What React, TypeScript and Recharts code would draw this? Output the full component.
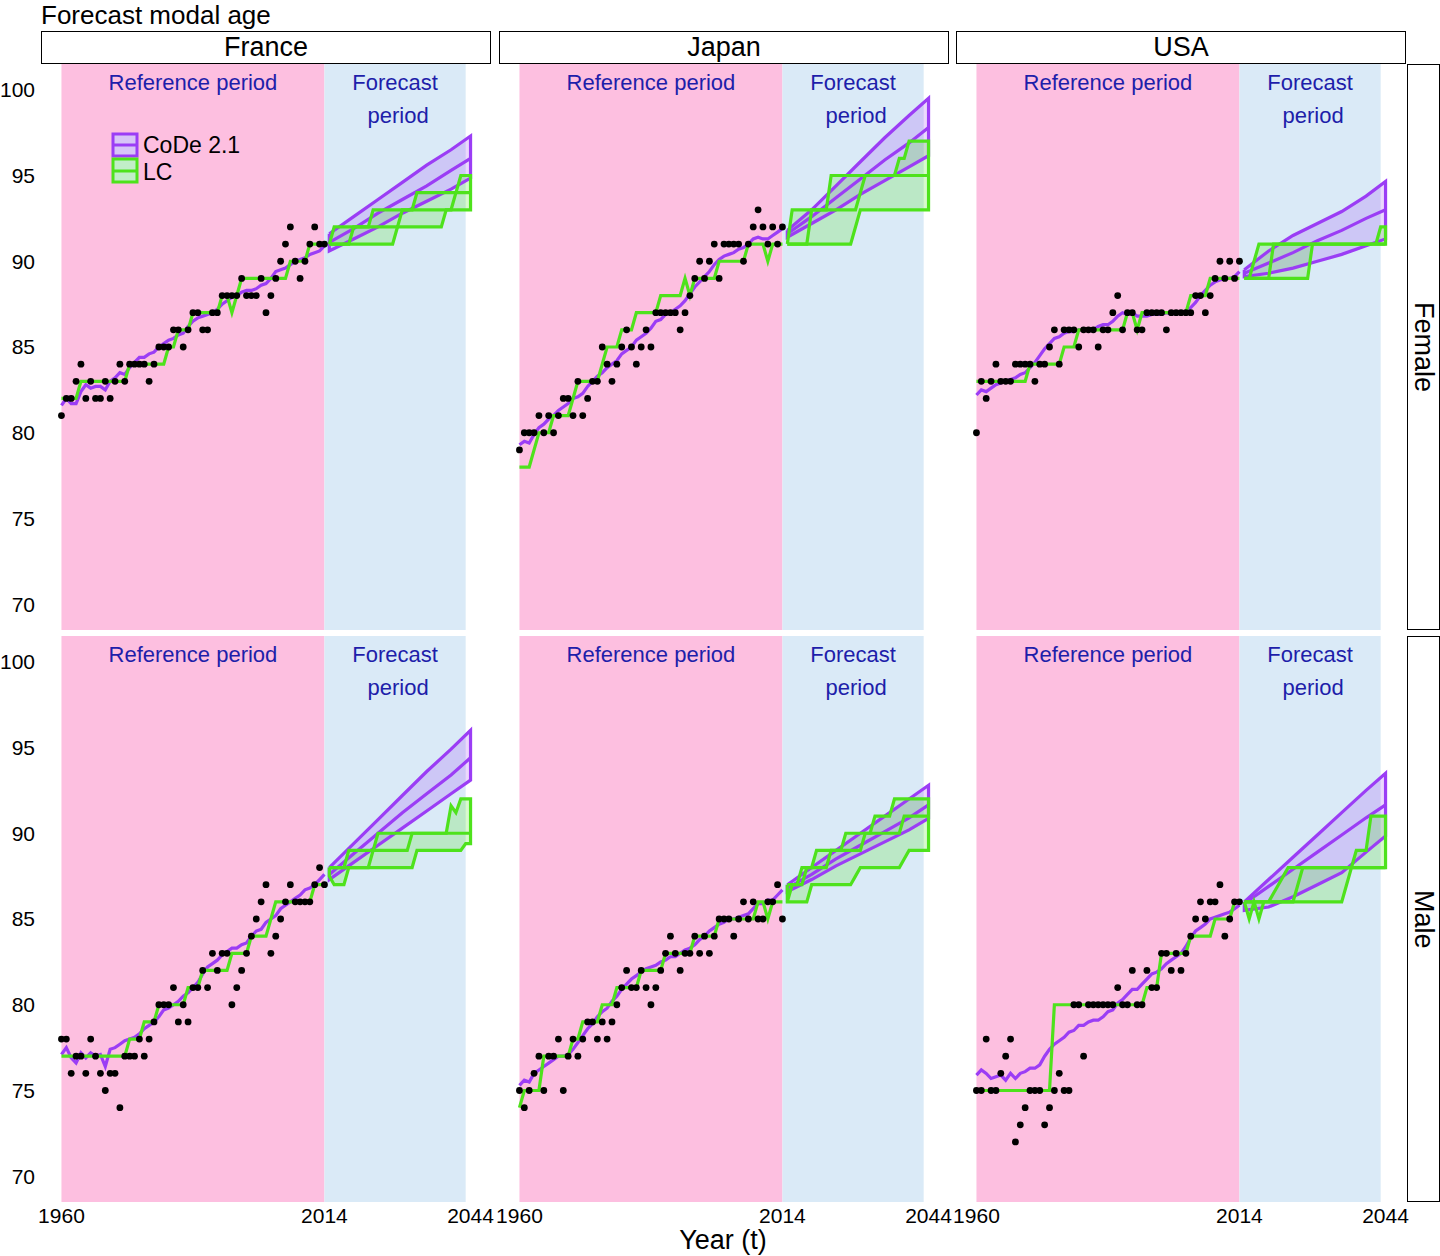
import React from 'react';
import { ComposedChart, XAxis, YAxis, Line, Area, Scatter, ReferenceArea } from 'recharts';

// ── Look ───────────────────────────────────────────────────────────────────

const FONT = '"Liberation Sans", Arial, Helvetica, sans-serif';
const PINK = '#FDBFE0';
const BLUE = '#DAEAF7';
const PURPLE = '#9B3DF5';
const GREEN = '#4EE21C';
const LABEL_BLUE = '#1E1EAA';

const PANEL_W = 450;
const PANEL_H = 566;
const Y_AXIS_W = 41;
const X_AXIS_H = 44;
const SIDE = 14; // spare room so end tick labels are not clipped
const COLS = [41, 499, 956];
const ROWS = [64, 636];

// ── Axes / categories ──────────────────────────────────────────────────────

const COUNTRIES = ['France', 'Japan', 'USA'];
const SEXES = ['Female', 'Male'];
const REF_START = 1960; // observed + fitted: 1960..2014
const LC_START = 2015; // LC forecast quantiles: 2015..2044 (yearly)
const CODE_YEARS = [2015, 2020, 2025, 2030, 2035, 2040, 2044];
const X_TICKS = [1960, 2014, 2044];
const Y_TICKS = [70, 75, 80, 85, 90, 95, 100];

// ── France, female ─────────────────────────────────────────────────────────

const frF_obs = [81, 82, 82, 83, 84, 82, 83, 82, 82, 83, 82, 83, 84, 83, 84, 84, 84, 84, 83, 84, 85, 85, 85, 86, 86, 85, 86, 87, 87, 86, 86, 87, 87, 88, 88, 88, 88, 89, 88, 88, 88, 89, 87, 88, 89, 90, 91, 92, 90, 89, 90, 91, 92, 91, 91];
const frF_code = [81.6, 82.0, 81.7, 81.7, 82.4, 82.8, 82.6, 82.7, 82.7, 82.5, 83.0, 83.2, 83.5, 83.4, 83.8, 84.1, 84.4, 84.4, 84.6, 84.7, 85.0, 85.2, 85.4, 85.5, 85.7, 85.8, 86.2, 86.5, 86.7, 86.8, 86.9, 87.0, 87.2, 87.5, 87.7, 87.9, 88.0, 88.2, 88.3, 88.3, 88.4, 88.6, 88.7, 89.0, 89.4, 89.5, 89.6, 89.8, 90.0, 90.1, 90.2, 90.4, 90.5, 90.6, 90.9];
const frF_lc = [82, 82, 82, 82, 83, 83, 83, 83, 83, 83, 83, 83, 83, 83, 84, 84, 84, 84, 84, 84, 84, 84, 85, 85, 86, 86, 86, 87, 87, 87, 87, 87, 87, 88, 88, 87, 88, 89, 89, 89, 89, 89, 89, 89, 89, 89, 89, 90, 90, 90, 90, 91, 91, 91, 91];
const frF_codeHi = [91.6, 92.6, 93.6, 94.6, 95.6, 96.5, 97.3];
const frF_codeMed = [91.1, 91.9, 92.8, 93.6, 94.4, 95.3, 96.0];
const frF_codeLo = [90.6, 91.3, 92.0, 92.8, 93.5, 94.2, 94.85];
const frF_lcHi = [91, 92, 92, 92, 92, 92, 92, 92, 92, 93, 93, 93, 93, 93, 93, 93, 93, 93, 94, 94, 94, 94, 94, 94, 94, 94, 94, 95, 95, 95];
const frF_lcMed = [91, 91, 91, 91, 91, 92, 92, 92, 92, 92, 92, 92, 92, 92, 92, 93, 93, 93, 93, 93, 93, 93, 93, 93, 93, 93, 94, 94, 94, 94];
const frF_lcLo = [91, 91, 91, 91, 91, 91, 91, 91, 91, 91, 91, 91, 91, 91, 92, 92, 92, 92, 92, 92, 92, 92, 92, 92, 93, 93, 93, 93, 93, 93];

// ── Japan, female ──────────────────────────────────────────────────────────

const jpF_obs = [79, 80, 80, 80, 81, 80, 81, 80, 81, 82, 82, 81, 83, 81, 82, 83, 83, 85, 84, 83, 84, 85, 86, 85, 84, 85, 86, 85, 87, 87, 87, 87, 87, 86, 87, 88, 89, 90, 89, 90, 91, 89, 91, 91, 91, 91, 90, 91, 92, 93, 92, 91, 92, 91, 92];
const jpF_code = [79.3, 79.5, 79.4, 79.9, 80.3, 80.5, 80.8, 81.0, 81.3, 81.5, 81.7, 82.0, 82.1, 82.3, 82.7, 83.0, 83.3, 83.5, 83.8, 84.0, 84.2, 84.6, 84.8, 85.0, 85.4, 85.6, 85.8, 86.1, 86.5, 86.6, 86.9, 87.0, 87.2, 87.4, 87.7, 88.1, 88.5, 88.8, 89.1, 89.4, 89.8, 90.1, 90.3, 90.4, 90.5, 90.7, 90.8, 91.0, 91.3, 91.4, 91.3, 91.3, 91.5, 91.7, 91.9];
const jpF_lc = [78, 78, 78, 79, 80, 80, 80, 81, 81, 81, 81, 82, 83, 83, 83, 83, 83, 84, 85, 85, 85, 86, 86, 86, 87, 87, 87, 87, 87, 88, 88, 88, 88, 88, 89, 88, 89, 89, 89, 89, 89, 90, 90, 90, 90, 90, 90, 91, 91, 91, 91, 90, 91, 91, 91];
const jpF_codeHi = [91.8, 93.0, 94.4, 95.8, 97.2, 98.5, 99.5];
const jpF_codeMed = [91.6, 92.6, 93.7, 94.8, 95.9, 96.9, 97.8];
const jpF_codeLo = [91.4, 92.2, 93.0, 93.9, 94.7, 95.5, 96.15];
const jpF_lcHi = [91, 93, 93, 93, 93, 93, 93, 93, 93, 95, 95, 95, 95, 95, 95, 95, 95, 95, 95, 95, 95, 95, 95, 96, 96, 97, 97, 97, 97, 97];
const jpF_lcMed = [91, 91, 91, 91, 91, 93, 93, 93, 93, 93, 93, 93, 93, 93, 93, 94, 95, 95, 95, 95, 95, 95, 95, 95, 95, 95, 95, 95, 95, 95];
const jpF_lcLo = [91, 91, 91, 91, 91, 91, 91, 91, 91, 91, 91, 91, 91, 91, 92, 93, 93, 93, 93, 93, 93, 93, 93, 93, 93, 93, 93, 93, 93, 93];

// ── USA, female ────────────────────────────────────────────────────────────

const usF_obs = [80, 83, 82, 83, 84, 83, 83, 83, 84, 84, 84, 84, 83, 84, 84, 85, 86, 84, 86, 86, 86, 85, 86, 86, 86, 85, 86, 86, 87, 88, 86, 87, 87, 86, 86, 87, 87, 87, 87, 86, 87, 87, 87, 87, 87, 88, 88, 87, 88, 89, 90, 89, 90, 89, 90];
const usF_code = [82.2, 82.5, 82.4, 82.6, 82.8, 82.9, 83.0, 83.1, 83.2, 83.4, 83.5, 83.8, 84.1, 84.5, 84.9, 85.2, 85.5, 85.6, 85.8, 85.9, 85.9, 86.0, 86.0, 86.0, 86.0, 86.2, 86.3, 86.3, 86.5, 86.8, 87.0, 86.9, 87.0, 86.8, 86.8, 86.8, 86.9, 86.9, 86.9, 87.0, 86.9, 87.0, 87.0, 87.1, 87.3, 87.6, 88.0, 88.3, 88.6, 88.8, 88.9, 89.0, 89.0, 89.1, 89.4];
const usF_lc = [83, 83, 83, 83, 83, 83, 83, 83, 83, 83, 83, 84, 84, 84, 84, 84, 84, 84, 85, 85, 85, 86, 86, 86, 86, 86, 86, 86, 86, 86, 86, 87, 87, 86, 87, 87, 87, 87, 87, 87, 87, 87, 87, 87, 88, 88, 88, 88, 89, 89, 89, 89, 89, 89, 89];
const usF_codeHi = [89.5, 90.6, 91.5, 92.2, 92.9, 93.8, 94.65];
const usF_codeMed = [89.3, 89.9, 90.5, 91.2, 91.8, 92.5, 93.0];
const usF_codeLo = [89.1, 89.3, 89.6, 90.0, 90.4, 90.9, 91.3];
const usF_lcHi = [89, 89, 90, 91, 91, 91, 91, 91, 91, 91, 91, 91, 91, 91, 91, 91, 91, 91, 91, 91, 91, 91, 91, 91, 91, 91, 91, 91, 92, 92];
const usF_lcMed = [89, 89, 89, 89, 89, 89, 91, 91, 91, 91, 91, 91, 91, 91, 91, 91, 91, 91, 91, 91, 91, 91, 91, 91, 91, 91, 91, 91, 91, 91];
const usF_lcLo = [89, 89, 89, 89, 89, 89, 89, 89, 89, 89, 89, 89, 89, 89, 91, 91, 91, 91, 91, 91, 91, 91, 91, 91, 91, 91, 91, 91, 91, 91];

// ── France, male ───────────────────────────────────────────────────────────

const frM_obs = [78, 78, 76, 77, 77, 76, 78, 77, 76, 75, 76, 76, 74, 77, 77, 77, 78, 77, 78, 79, 80, 80, 80, 81, 79, 80, 79, 81, 81, 82, 81, 83, 82, 83, 83, 80, 81, 82, 83, 84, 85, 86, 87, 83, 84, 85, 86, 87, 86, 86, 86, 86, 87, 88, 87];
const frM_code = [77.1, 77.5, 76.9, 76.6, 77.2, 76.9, 77.2, 77.0, 77.1, 76.4, 77.4, 77.5, 77.7, 77.9, 78.0, 78.1, 78.3, 78.6, 78.8, 79.0, 79.3, 79.7, 79.8, 80.0, 80.2, 80.5, 80.7, 81.0, 81.3, 81.8, 82.2, 82.4, 82.6, 82.9, 83.1, 83.3, 83.3, 83.5, 83.6, 84.0, 84.3, 84.4, 84.8, 85.0, 85.2, 85.6, 85.8, 86.0, 86.2, 86.4, 86.7, 86.8, 87.0, 87.3, 87.6];
const frM_lc = [77, 77, 77, 77, 77, 77, 77, 77, 77, 77, 77, 77, 77, 77, 78, 78, 78, 79, 79, 79, 80, 80, 80, 80, 80, 80, 81, 81, 81, 82, 82, 82, 82, 82, 82, 83, 83, 83, 83, 84, 84, 84, 84, 85, 86, 86, 86, 86, 86, 86, 86, 86, 87, 87, 87];
const frM_codeHi = [88.0, 89.4, 90.8, 92.2, 93.6, 94.9, 96.0];
const frM_codeMed = [87.6, 88.8, 90.0, 91.2, 92.3, 93.4, 94.4];
const frM_codeLo = [87.3, 88.3, 89.3, 90.3, 91.3, 92.3, 93.1];
const frM_lcHi = [88, 88, 88, 88, 89, 89, 89, 89, 89, 89, 90, 90, 90, 90, 90, 90, 90, 90, 90, 90, 90, 90, 90, 90, 90, 91.6, 91.2, 92, 92, 92];
const frM_lcMed = [88, 88, 88, 88, 88, 88, 88, 88, 88, 89, 89, 89, 89, 89, 89, 89, 89, 90, 90, 90, 90, 90, 90, 90, 90, 90, 90, 90, 90, 90];
const frM_lcLo = [87.5, 87, 87, 87, 88, 88, 88, 88, 88, 88, 88, 88, 88, 88, 88, 88, 88, 88, 89, 89, 89, 89, 89, 89, 89, 89, 89, 89, 89.4, 89.4];

// ── Japan, male ────────────────────────────────────────────────────────────

const jpM_obs = [75, 74, 75, 76, 77, 75, 77, 77, 78, 75, 77, 78, 77, 78, 79, 79, 78, 79, 78, 79, 80, 81, 82, 81, 81, 82, 81, 80, 81, 82, 83, 84, 83, 82, 83, 83, 84, 83, 84, 83, 84, 85, 85, 85, 84, 85, 86, 85, 86, 85, 85, 86, 86, 87, 85];
const jpM_code = [75.3, 75.6, 75.5, 76.0, 76.2, 76.4, 76.6, 76.8, 77.0, 77.0, 77.1, 77.4, 77.8, 78.2, 78.6, 78.9, 79.3, 79.6, 79.8, 80.2, 80.5, 80.9, 81.2, 81.5, 81.7, 81.9, 82.1, 82.2, 82.3, 82.5, 82.6, 82.8, 82.8, 83.0, 83.2, 83.3, 83.5, 83.8, 84.0, 84.3, 84.5, 84.7, 84.8, 85.0, 85.0, 85.1, 85.2, 85.3, 85.6, 85.9, 85.9, 86.1, 86.1, 86.4, 86.7];
const jpM_lc = [74, 75, 75, 75, 75, 77, 77, 77, 77, 77, 77, 78, 78, 79, 79, 79, 79, 80, 80, 80, 81, 81, 81, 81, 81, 82, 82, 82, 82, 82, 83, 83, 83, 83, 83, 83, 84, 84, 84, 84, 84, 85, 85, 85, 85, 85, 85, 85, 85, 86, 86, 85, 86, 86, 86];
const jpM_codeHi = [87.0, 88.0, 89.0, 90.0, 91.0, 92.0, 92.8];
const jpM_codeMed = [86.8, 87.6, 88.5, 89.3, 90.1, 90.9, 91.65];
const jpM_codeLo = [86.6, 87.3, 88.1, 88.8, 89.5, 90.2, 90.87];
const jpM_lcHi = [87, 87, 87, 88, 88, 88, 89, 89, 89, 89, 89, 89, 90, 90, 90, 90, 90, 90, 91, 91, 91, 91, 92, 92, 92, 92, 92, 92, 92, 92];
const jpM_lcMed = [86, 87, 87, 87, 88, 88, 88, 88, 88, 89, 89, 89, 89, 89, 89, 89, 90, 90, 90, 90, 90, 90, 90, 90, 91, 91, 91, 91, 91, 91];
const jpM_lcLo = [86, 86, 86, 86, 86, 87, 87, 87, 87, 87, 87, 87, 87, 87, 87.5, 88, 88, 88, 88, 88, 88, 88, 88, 88, 88.5, 89, 89, 89, 89, 89];

// ── USA, male ──────────────────────────────────────────────────────────────

const usM_obs = [75, 75, 78, 75, 75, 76, 77, 78, 72, 73, 74, 75, 75, 75, 73, 74, 75, 76, 75, 75, 80, 80, 77, 80, 80, 80, 80, 80, 80, 81, 80, 80, 82, 80, 80, 82, 81, 81, 83, 83, 82, 83, 82, 83, 84, 85, 86, 85, 86, 86, 87, 84, 85, 86, 86];
const usM_code = [75.9, 76.2, 76.0, 75.7, 75.8, 75.9, 75.6, 76.0, 75.7, 76.0, 76.1, 76.3, 76.3, 76.5, 77.0, 77.4, 77.7, 77.9, 78.1, 78.4, 78.5, 78.8, 78.8, 79.0, 79.1, 79.1, 79.3, 79.6, 79.7, 80.1, 80.3, 80.6, 80.9, 80.9, 81.2, 81.5, 81.8, 81.9, 82.1, 82.4, 82.6, 82.8, 83.0, 83.4, 83.9, 84.3, 84.5, 84.7, 85.0, 85.1, 85.2, 85.3, 85.4, 85.6, 85.8];
const usM_lc = [75, 75, 75, 75, 75, 75, 75, 75, 75, 75, 75, 75, 75, 75, 75, 75, 80, 80, 80, 80, 80, 80, 80, 80, 80, 80, 80, 80, 80, 80, 80, 80, 80, 80, 80, 81, 81, 81, 83, 83, 83, 83, 83, 83, 84, 84, 84, 84, 84, 85, 85, 85, 85, 86, 86];
const usM_codeHi = [86.0, 87.3, 88.6, 89.9, 91.2, 92.5, 93.5];
const usM_codeMed = [85.9, 86.9, 87.9, 88.9, 89.9, 90.9, 91.65];
const usM_codeLo = [85.5, 85.7, 86.3, 87.0, 87.7, 88.9, 89.84];
const usM_lcHi = [86, 86, 86, 86, 86, 86, 86.5, 87, 87.5, 88, 88, 88, 88, 88, 88, 88, 88, 88, 88, 88, 88, 88, 88, 89, 89, 89, 91, 91, 91, 91];
const usM_lcMed = [86, 86, 86, 86, 86, 86, 86, 86, 86, 86, 86, 87, 88, 88, 88, 88, 88, 88, 88, 88, 88, 88, 88, 88, 88, 88, 88, 88, 88, 88];
const usM_lcLo = [86, 85, 86, 85, 86, 86, 86, 86, 86, 86, 86, 86, 86, 86, 86, 86, 86, 86, 86, 86, 86, 87, 88, 88, 88, 88, 88, 88, 88, 88];

// ── Types & helpers ────────────────────────────────────────────────────────

type PanelData = {
  obs: number[]; codeFit: number[]; lcFit: number[];
  codeLo: number[]; codeMed: number[]; codeHi: number[];
  lcLo: number[]; lcMed: number[]; lcHi: number[];
};

const pts = (years: number[], vals: number[]) => vals.map((v, i) => ({ year: years[i], v }));
const band = (years: number[], lo: number[], hi: number[]) =>
  lo.map((l, i) => ({ year: years[i], v: [l, hi[i]] }));
// closed outline of a ribbon: upper edge forward, lower edge back
const outline = (years: number[], lo: number[], hi: number[]) => [
  ...pts(years, hi),
  ...pts(years, lo).reverse(),
  { year: years[0], v: hi[0] },
];

// grid rows × cols
const GRID: PanelData[][] = [
  [
    { obs: frF_obs, codeFit: frF_code, lcFit: frF_lc, codeLo: frF_codeLo, codeMed: frF_codeMed, codeHi: frF_codeHi, lcLo: frF_lcLo, lcMed: frF_lcMed, lcHi: frF_lcHi },
    { obs: jpF_obs, codeFit: jpF_code, lcFit: jpF_lc, codeLo: jpF_codeLo, codeMed: jpF_codeMed, codeHi: jpF_codeHi, lcLo: jpF_lcLo, lcMed: jpF_lcMed, lcHi: jpF_lcHi },
    { obs: usF_obs, codeFit: usF_code, lcFit: usF_lc, codeLo: usF_codeLo, codeMed: usF_codeMed, codeHi: usF_codeHi, lcLo: usF_lcLo, lcMed: usF_lcMed, lcHi: usF_lcHi },
  ],
  [
    { obs: frM_obs, codeFit: frM_code, lcFit: frM_lc, codeLo: frM_codeLo, codeMed: frM_codeMed, codeHi: frM_codeHi, lcLo: frM_lcLo, lcMed: frM_lcMed, lcHi: frM_lcHi },
    { obs: jpM_obs, codeFit: jpM_code, lcFit: jpM_lc, codeLo: jpM_codeLo, codeMed: jpM_codeMed, codeHi: jpM_codeHi, lcLo: jpM_lcLo, lcMed: jpM_lcMed, lcHi: jpM_lcHi },
    { obs: usM_obs, codeFit: usM_code, lcFit: usM_lc, codeLo: usM_codeLo, codeMed: usM_codeMed, codeHi: usM_codeHi, lcLo: usM_lcLo, lcMed: usM_lcMed, lcHi: usM_lcHi },
  ],
];

const TICK = { fill: '#000', fontSize: 21, fontFamily: FONT };

// "Reference period" / "Forecast period" captions centred in their shaded area
const periodLabel = (lines: string[]) => (props: any) => {
  const vb = props.viewBox ?? props;
  const cx = vb.x + vb.width / 2;
  return (
    <text x={cx} y={vb.y + 26} textAnchor="middle" fill={LABEL_BLUE} fontSize={22} fontFamily={FONT}>
      {lines.map((l, i) => (
        <tspan key={l} x={cx + i * 3} dy={i === 0 ? 0 : 33}>{l}</tspan>
      ))}
    </text>
  );
};

const DotShape = (p: any) => <circle cx={p.cx} cy={p.cy} r={3.4} fill="#000" />;

const common = { isAnimationActive: false, dot: false, activeDot: false, legendType: 'none' as const, type: 'linear' as const };
const LW = 3.2;

// ── One facet ──────────────────────────────────────────────────────────────

function Panel({ d, showY, showX }: { d: PanelData; showY: boolean; showX: boolean }) {
  const yW = showY ? Y_AXIS_W : 0;
  const xH = showX ? X_AXIS_H : 0;
  const refYears = d.obs.map((_, i) => REF_START + i);
  const lcYears = d.lcMed.map((_, i) => LC_START + i);

  return (
    <ComposedChart
      width={PANEL_W + yW + 2 * SIDE}
      height={PANEL_H + xH}
      margin={{ top: 0, right: SIDE, bottom: 0, left: SIDE }}
    >
      <XAxis
        type="number" dataKey="year" domain={[1955.8, 2048.2]} ticks={X_TICKS} interval={0}
        allowDataOverflow hide={!showX} height={X_AXIS_H}
        axisLine={false} tickLine={false} tickSize={3} tickMargin={3} tick={TICK}
      />
      <YAxis
        type="number" dataKey="v" domain={[68.5, 101.5]} ticks={Y_TICKS} interval={0}
        allowDataOverflow hide={!showY} width={Y_AXIS_W}
        axisLine={false} tickLine={false} tickSize={4} tickMargin={2} tick={TICK}
      />

      <ReferenceArea x1={1960} x2={2014} fill={PINK} fillOpacity={1} stroke="none" label={periodLabel(['Reference period'])} />
      <ReferenceArea x1={2014} x2={2043} fill={BLUE} fillOpacity={1} stroke="none" label={periodLabel(['Forecast', 'period'])} />

      {/* CoDe forecast ribbon + median, fitted line */}
      <Area {...common} data={band(CODE_YEARS, d.codeLo, d.codeHi)} dataKey="v" stroke="none" fill={PURPLE} fillOpacity={0.2} />
      <Line {...common} data={outline(CODE_YEARS, d.codeLo, d.codeHi)} dataKey="v" stroke={PURPLE} strokeWidth={LW} />
      <Line {...common} data={pts(CODE_YEARS, d.codeMed)} dataKey="v" stroke={PURPLE} strokeWidth={LW} />
      <Line {...common} data={pts(refYears, d.codeFit)} dataKey="v" stroke={PURPLE} strokeWidth={LW} />

      {/* LC forecast ribbon + median, fitted line */}
      <Area {...common} data={band(lcYears, d.lcLo, d.lcHi)} dataKey="v" stroke="none" fill={GREEN} fillOpacity={0.22} />
      <Line {...common} data={outline(lcYears, d.lcLo, d.lcHi)} dataKey="v" stroke={GREEN} strokeWidth={LW} />
      <Line {...common} data={pts(lcYears, d.lcMed)} dataKey="v" stroke={GREEN} strokeWidth={LW} />
      <Line {...common} data={pts(refYears, d.lcFit)} dataKey="v" stroke={GREEN} strokeWidth={LW} />

      <Scatter data={pts(refYears, d.obs)} dataKey="v" shape={DotShape} isAnimationActive={false} legendType="none" />
    </ComposedChart>
  );
}

// ── Legend (inside France / Female) ───────────────────────────────────────

function KeyLegend() {
  return (
    <svg width={150} height={56} style={{ position: 'absolute', left: 110, top: 131 }}>
      <rect x={3} y={3} width={24} height={22} fill="#D7C5F7" stroke={PURPLE} strokeWidth={3} />
      <line x1={3} x2={27} y1={14} y2={14} stroke={PURPLE} strokeWidth={3} />
      <text x={33} y={22} fontSize={23} fontFamily={FONT} fill="#000">CoDe 2.1</text>
      <rect x={3} y={28} width={24} height={23} fill="#C2EEC8" stroke={GREEN} strokeWidth={3} />
      <line x1={3} x2={27} y1={40} y2={40} stroke={GREEN} strokeWidth={3} />
      <text x={33} y={49} fontSize={23} fontFamily={FONT} fill="#000">LC</text>
    </svg>
  );
}

export default function App() {
  return (
    <div style={{ position: 'absolute', left: 0, top: 0, width: 1440, height: 1256, background: '#fff', fontFamily: FONT, overflow: 'hidden' }}>
      <div style={{ position: 'absolute', left: 41, top: 0, fontSize: 26, lineHeight: 'normal', color: '#000' }}>
        Forecast modal age
      </div>

      {COUNTRIES.map((c, i) => (
        <div
          key={c}
          style={{
            position: 'absolute', left: COLS[i], top: 31, width: PANEL_W, height: 33, boxSizing: 'border-box',
            border: '1px solid #000', background: '#fff', textAlign: 'center', fontSize: 27, lineHeight: '31px',
          }}
        >
          {c}
        </div>
      ))}

      {SEXES.map((s, r) => (
        <div
          key={s}
          style={{
            position: 'absolute', left: 1407, top: ROWS[r], width: 33, height: PANEL_H, boxSizing: 'border-box',
            border: '1px solid #000', background: '#fff', display: 'flex', alignItems: 'center', justifyContent: 'center',
            writingMode: 'vertical-rl', fontSize: 27,
          }}
        >
          {s}
        </div>
      ))}

      {GRID.map((row, r) =>
        row.map((d, c) => {
          const showY = c === 0;
          const showX = r === 1;
          return (
            <div key={`${r}-${c}`} style={{ position: 'absolute', left: COLS[c] - (showY ? Y_AXIS_W : 0) - SIDE, top: ROWS[r] }}>
              <Panel d={d} showY={showY} showX={showX} />
            </div>
          );
        })
      )}

      <KeyLegend />

      <div style={{ position: 'absolute', left: 623, top: 1225, width: 200, textAlign: 'center', fontSize: 27, lineHeight: '30px' }}>
        Year (t)
      </div>
    </div>
  );
}
